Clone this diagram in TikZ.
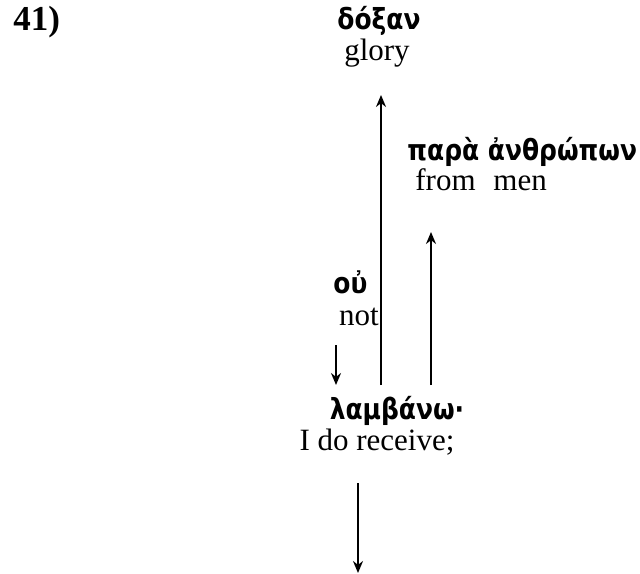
\documentclass[tikz,border=0pt]{standalone}
\usepackage{fontspec}
\setmainfont{Liberation Serif}
\newfontfamily\grk[FakeStretch=0.86]{DejaVu Sans}
\usetikzlibrary{arrows.meta}
\begin{document}
\begin{tikzpicture}[x=0.5pt,y=-0.5pt,
  en/.style={inner sep=0pt,font=\fontsize{15.5}{18}\selectfont},
  gr/.style={inner sep=0pt,font=\grk\bfseries\fontsize{14.5}{17}\selectfont},
  arr/.style={line width=0.9pt,-{Stealth[length=6pt,width=5pt]}}]
\useasboundingbox (0,0) rectangle (640,573);
\node[en,anchor=base west,font=\bfseries\fontsize{17.5}{20}\selectfont] (num) at (13,30) {41)};
\node[gr,anchor=base] (doxan) at (379,29) {δόξαν};
\node[en,anchor=base] (glory) at (377,60) {glory};
\node[gr,anchor=base west] (para) at (407,160) {παρὰ ἀνθρώπων};
\node[en,anchor=base west] (from) at (415,190) {from};
\node[en,anchor=base west] (men) at (493,190) {men};
\node[gr,anchor=base west] (ou) at (333,293) {οὐ};
\node[en,anchor=base] (not) at (359,325) {not};
\node[gr,anchor=base] (lam) at (397,419) {λαμβάνω·};
\node[en,anchor=base] (rec) at (377,450) {I do receive;};
\coordinate (a1s) at (381,385);
\coordinate (a1e) at (381,95);
\coordinate (a2s) at (431,385);
\coordinate (a2e) at (431,232);
\coordinate (a3s) at (336,345);
\coordinate (a3e) at (336,385);
\coordinate (a4s) at (358,483);
\coordinate (a4e) at (358,573);
\draw[arr] (a1s) -- (a1e);
\draw[arr] (a2s) -- (a2e);
\draw[arr] (a3s) -- (a3e);
\draw[arr] (a4s) -- (a4e);
\end{tikzpicture}
\end{document}
